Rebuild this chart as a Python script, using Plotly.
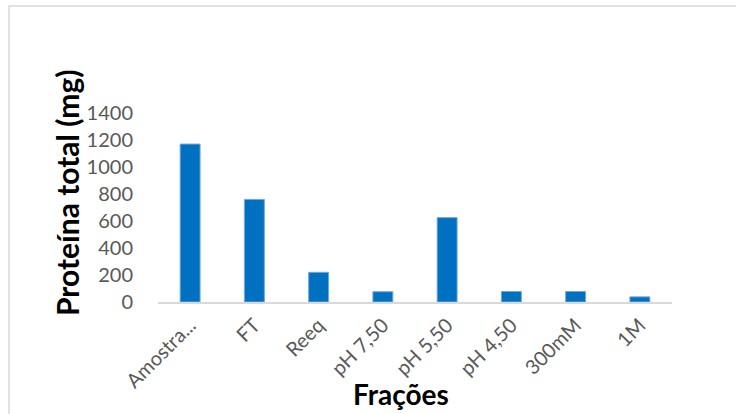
import plotly.graph_objects as go

# Fractions and total protein (mg)
categories = ["Amostra...", "FT", "Reeq", "pH 7,50", "pH 5,50", "pH 4,50", "300mM", "1M"]
protein_mg = [1170, 760, 220, 76, 625, 78, 78, 38]
y_ticks = [0, 200, 400, 600, 800, 1000, 1200, 1400]

W, H = 736, 414
L, R, T, B = 158, 64, 113, 112

FONT = "Lato"
GRAY = "#595959"

fig = go.Figure(
    go.Bar(
        x=categories,
        y=protein_mg,
        marker=dict(color="#0070C0", line=dict(color="#6FA8DC", width=1)),
    )
)

plot_w = W - L - R
plot_h = H - T - B

fig.update_layout(
    width=W,
    height=H,
    margin=dict(l=L, r=R, t=T, b=B),
    paper_bgcolor="white",
    plot_bgcolor="white",
    bargap=0.69,
    showlegend=False,
    font=dict(family=FONT, color=GRAY, size=20),
    xaxis=dict(
        type="category",
        tickangle=-45,
        showline=True,
        linecolor="#D9D9D9",
        linewidth=1.5,
        ticks="",
        showgrid=False,
        ticklabelstandoff=2,
        tickfont=dict(family=FONT, size=20, color=GRAY),
    ),
    yaxis=dict(
        range=[0, 1400],
        tickvals=y_ticks,
        showgrid=False,
        zeroline=False,
        showline=False,
        ticks="",
        ticklabelstandoff=24,
        tickfont=dict(family=FONT, size=20, color=GRAY),
    ),
    shapes=[
        # outer chart frame (extends past the right and bottom edges)
        dict(
            type="rect",
            xref="paper",
            yref="paper",
            x0=(9 - L) / plot_w,
            x1=(W + 20 - L) / plot_w,
            y0=-(B + 20) / plot_h,
            y1=(H - B - 6) / plot_h,
            line=dict(color="#D9D9D9", width=1.5),
            fillcolor="rgba(0,0,0,0)",
            layer="below",
        )
    ],
    annotations=[
        dict(
            text="<b>Proteína total (mg)</b>",
            textangle=-90,
            xref="paper",
            yref="paper",
            x=(67 - L) / plot_w,
            y=(H - B - 193) / plot_h,
            xanchor="center",
            yanchor="middle",
            showarrow=False,
            font=dict(family=FONT, size=30, color="black"),
        ),
        dict(
            text="<b>Frações</b>",
            xref="paper",
            yref="paper",
            x=(401 - L) / plot_w,
            y=-(394 - (H - B)) / plot_h,
            xanchor="center",
            yanchor="middle",
            showarrow=False,
            font=dict(family=FONT, size=28, color="black"),
        ),
    ],
)

fig.write_html("out.html")
